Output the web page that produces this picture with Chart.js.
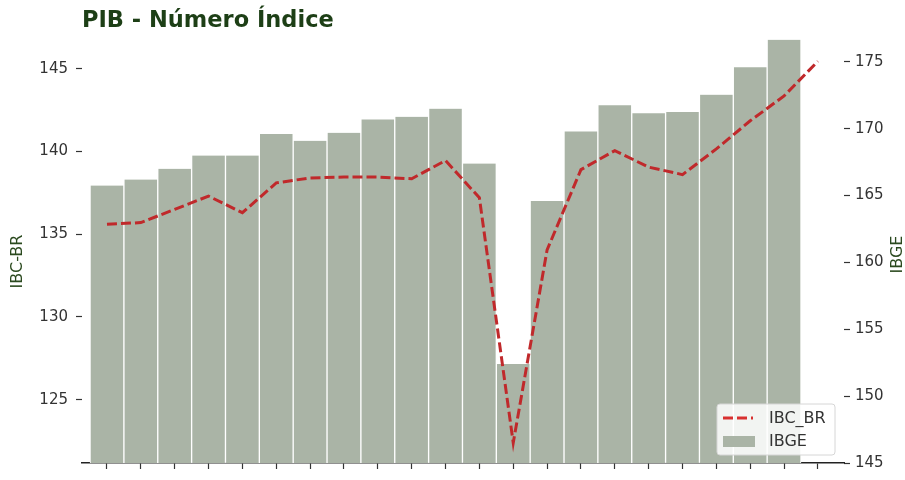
<!DOCTYPE html>
<html>
<head>
<meta charset="utf-8">
<script src="https://cdn.jsdelivr.net/npm/chart.js@4"></script>
<style>
html,body{margin:0;padding:0;background:#ffffff;}
canvas{display:block;}
</style>
</head>
<body>
<canvas id="c" width="905" height="480"></canvas>
<script>
// ---- data ----
const categories = ['2017 T2','2017 T3','2017 T4','2018 T1','2018 T2','2018 T3','2018 T4','2019 T1','2019 T2','2019 T3','2019 T4',
                    '2020 T1','2020 T2','2020 T3','2020 T4','2021 T1','2021 T2','2021 T3','2021 T4','2022 T1','2022 T2','2022 T3'];
const ibcBr = [135.6, 135.7, 136.5, 137.3, 136.3, 138.1, 138.4, 138.45, 138.45, 138.35, 139.45,
               137.2, 122.4, 134.05, 138.9, 140.05, 139.05, 138.6, 140.15, 141.85, 143.35, 145.45];
const ibge = [165.75, 166.2, 167.0, 168.0, 168.0, 169.6, 169.1, 169.7, 170.7, 170.9, 171.5,
              167.4, 152.4, 164.6, 169.8, 171.75, 171.15, 171.25, 172.55, 174.6, 176.65];
const leftTicks = [125, 130, 135, 140, 145];
const rightTicks = [145, 150, 155, 160, 165, 170, 175];
const seriesNames = ['IBC_BR', 'IBGE'];
const chartTitle = 'PIB - Número Índice';
const leftTitle = 'IBC-BR';
const rightTitle = 'IBGE';

// ---- styles ----
const FONT = "'DejaVu Sans', sans-serif";
const lineColor = '#c0292b';
const barColor = '#aab4a6';
const titleGreen = '#1d3f16';
const labelGreen = '#2b4a1f';
const tickText = '#333333';

const extras = {
  id: 'extras',
  afterDraw(chart) {
    const ctx = chart.ctx;
    const area = chart.chartArea;
    // axis titles (both read bottom to top)
    ctx.save();
    ctx.fillStyle = labelGreen;
    ctx.font = '16px ' + FONT;
    ctx.textAlign = 'center';
    ctx.textBaseline = 'middle';
    ctx.translate(18, area.top + 223);
    ctx.rotate(-Math.PI / 2);
    ctx.fillText(leftTitle, 0, 0);
    ctx.restore();

    ctx.save();
    ctx.fillStyle = labelGreen;
    ctx.font = '16px ' + FONT;
    ctx.textAlign = 'center';
    ctx.textBaseline = 'middle';
    ctx.translate(898, area.top + 216);
    ctx.rotate(-Math.PI / 2);
    ctx.fillText(rightTitle, 0, 0);
    ctx.restore();

    // legend box
    const w = 118, h = 51;
    const x0 = area.right - 9 - w, y0 = area.bottom - 8 - h;
    ctx.save();
    ctx.beginPath();
    const r = 3;
    ctx.moveTo(x0 + r, y0);
    ctx.lineTo(x0 + w - r, y0); ctx.quadraticCurveTo(x0 + w, y0, x0 + w, y0 + r);
    ctx.lineTo(x0 + w, y0 + h - r); ctx.quadraticCurveTo(x0 + w, y0 + h, x0 + w - r, y0 + h);
    ctx.lineTo(x0 + r, y0 + h); ctx.quadraticCurveTo(x0, y0 + h, x0, y0 + h - r);
    ctx.lineTo(x0, y0 + r); ctx.quadraticCurveTo(x0, y0, x0 + r, y0);
    ctx.closePath();
    ctx.fillStyle = 'rgba(255,255,255,0.85)';
    ctx.fill();
    ctx.strokeStyle = '#d6d6d6';
    ctx.lineWidth = 1;
    ctx.stroke();

    const ds = chart.data.datasets;
    // line entry
    ctx.beginPath();
    ctx.setLineDash([10, 4]);
    ctx.strokeStyle = '#d83030';
    ctx.lineWidth = 3;
    ctx.moveTo(x0 + 6, y0 + 14);
    ctx.lineTo(x0 + 36, y0 + 14);
    ctx.stroke();
    ctx.setLineDash([]);
    // bar entry
    ctx.fillStyle = ds[1].backgroundColor;
    ctx.fillRect(x0 + 6, y0 + 32, 32, 11);
    // texts
    ctx.fillStyle = '#333333';
    ctx.font = '16px ' + FONT;
    ctx.textAlign = 'left';
    ctx.textBaseline = 'middle';
    ctx.fillText(ds[0].label, x0 + 52, y0 + 15);
    ctx.fillText(ds[1].label, x0 + 52, y0 + 38);
    ctx.restore();
  }
};

new Chart(document.getElementById('c'), {
  data: {
    datasets: [
      {
        type: 'line',
        label: seriesNames[0],
        data: ibcBr.map((v, i) => ({ x: i, y: v })),
        xAxisID: 'x',
        yAxisID: 'yL',
        borderColor: lineColor,
        backgroundColor: lineColor,
        borderWidth: 3,
        borderDash: [10, 4],
        pointRadius: 0,
        tension: 0,
        fill: false,
        order: 0
      },
      {
        type: 'bar',
        label: seriesNames[1],
        data: ibge.map((v, i) => ({ x: i, y: v })),
        xAxisID: 'x',
        yAxisID: 'yR',
        backgroundColor: barColor,
        borderColor: '#ffffff',
        borderWidth: { left: 1, right: 1, top: 0, bottom: 0 },
        barPercentage: 1,
        categoryPercentage: 1,
        clip: 0,
        order: 1
      }
    ]
  },
  options: {
    responsive: false,
    animation: false,
    layout: { padding: { top: 0, left: 0, right: 0, bottom: 0 } },
    plugins: {
      legend: { display: false },
      tooltip: { enabled: false },
      title: {
        display: true,
        text: chartTitle,
        align: 'start',
        fullSize: false,
        color: titleGreen,
        font: { family: FONT, size: 22.5, weight: 'bold' },
        padding: { top: 8, bottom: 3.5 }
      }
    },
    scales: {
      x: {
        type: 'linear',
        position: 'bottom',
        offset: false,
        min: -0.738,
        max: 21.77,
        z: 1,
        afterBuildTicks: s => { s.ticks = categories.map((_, i) => ({ value: i })); },
        ticks: { display: false },
        grid: { display: true, offset: false, drawOnChartArea: false, drawTicks: true, tickLength: 6, tickColor: '#333333', tickWidth: 1.2 },
        border: { display: true, color: '#222222', width: 1.5 }
      },
      yL: {
        type: 'linear',
        position: 'left',
        min: 121.18,
        max: 146.82,
        afterBuildTicks: s => { s.ticks = leftTicks.map(v => ({ value: v })); },
        afterFit: s => { s.width = 82; },
        ticks: { color: tickText, font: { family: FONT, size: 15 }, padding: 8 },
        grid: { display: true, drawOnChartArea: false, drawTicks: true, tickLength: 6, tickColor: '#333333', tickWidth: 1.2 },
        border: { display: false },
        title: { display: false }
      },
      yR: {
        type: 'linear',
        position: 'right',
        min: 145,
        max: 176.75,
        afterBuildTicks: s => { s.ticks = rightTicks.map(v => ({ value: v })); },
        afterFit: s => { s.width = 61; },
        ticks: { color: tickText, font: { family: FONT, size: 15 }, padding: 5 },
        grid: { display: true, drawOnChartArea: false, drawTicks: true, tickLength: 6, tickColor: '#333333', tickWidth: 1.2 },
        border: { display: false }
      }
    }
  },
  plugins: [extras]
});
</script>
</body>
</html>
